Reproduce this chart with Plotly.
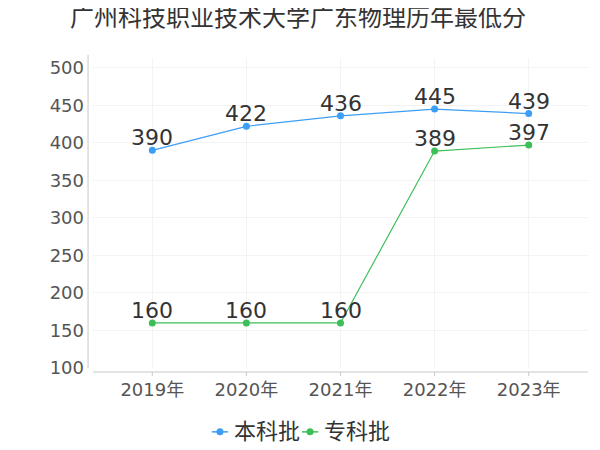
import plotly.graph_objects as go

YEARS = ["2019年", "2020年", "2021年", "2022年", "2023年"]
BENKE = [390, 422, 436, 445, 439]
ZHUANKE = [160, 160, 160, 389, 397]
SERIES_NAMES = ["本科批", "专科批"]
COLORS = ["#3d9ef5", "#3dbf57"]

TITLE = "广州科技职业技术大学广东物理历年最低分"
FONT = "DejaVu Sans, Noto Sans CJK SC, sans-serif"

fig = go.Figure()
for name, values, color in zip(SERIES_NAMES, [BENKE, ZHUANKE], COLORS):
    fig.add_trace(go.Scatter(
        x=YEARS,
        y=values,
        name=name,
        mode="lines+markers",
        line=dict(color=color, width=1.2),
        marker=dict(color=color, size=7),
        showlegend=False,
    ))
    # value labels sitting just above each point
    for year, v in zip(YEARS, values):
        fig.add_annotation(x=year, y=v, text=str(v), showarrow=False,
                           yanchor="bottom", yshift=-2,
                           font=dict(size=22, color="#333333"))

# small legend like the reference: short line + dot, then the name
legend_y = -0.206
legend_starts = [0.240, 0.422]
for name, color, x0 in zip(SERIES_NAMES, COLORS, legend_starts):
    fig.add_shape(type="line", xref="paper", yref="paper", x0=x0, x1=x0 + 0.033,
                  y0=legend_y, y1=legend_y, line=dict(color=color, width=1.5))
    cx = x0 + 0.0165
    fig.add_shape(type="circle", xref="paper", yref="paper",
                  x0=cx - 0.0071, x1=cx + 0.0071, y0=legend_y - 0.0113, y1=legend_y + 0.0113,
                  fillcolor=color, line=dict(color=color, width=0))
    fig.add_annotation(xref="paper", yref="paper", x=x0 + 0.041, y=legend_y, text=name,
                       showarrow=False, xanchor="left", yanchor="middle",
                       font=dict(size=22, color="#333333"))

# page body has an 8px margin, so the figure is 8px smaller than the window
fig.update_layout(
    width=592,
    height=442,
    paper_bgcolor="white",
    plot_bgcolor="white",
    font=dict(family=FONT, color="#555555"),
    title=dict(text=TITLE, x=0.49, xanchor="center", y=0.998, yanchor="top",
               font=dict(size=24, color="#333333")),
    margin=dict(l=85, r=12, t=50, b=82, autoexpand=False),
    showlegend=False,
    xaxis=dict(
        type="category",
        range=[-0.63, 4.63],
        automargin=False,
        showgrid=True,
        gridcolor="#f3f3f3",
        showline=False,
        zeroline=False,
        ticks="",
        tickfont=dict(size=18, color="#555555"),
        ticklabelstandoff=9,
    ),
    yaxis=dict(
        range=[100, 513],
        tickvals=[100, 150, 200, 250, 300, 350, 400, 450, 500],
        automargin=False,
        showgrid=True,
        gridcolor="#f3f3f3",
        showline=False,
        zeroline=False,
        ticks="",
        tickfont=dict(size=18, color="#555555"),
        ticklabelstandoff=8,
    ),
)

# detached axis lines like the reference
fig.add_shape(type="line", xref="paper", yref="paper", x0=0, x1=1, y0=-0.013, y1=-0.013,
              line=dict(color="#c8c8c8", width=1))
fig.add_shape(type="line", xref="paper", yref="paper", x0=-0.01, x1=-0.01, y0=0, y1=1.01,
              line=dict(color="#c8c8c8", width=1))
for i in range(len(YEARS)):
    fig.add_shape(type="line", xref="x", yref="paper", x0=i, x1=i, y0=-0.013, y1=-0.026,
                  line=dict(color="#c8c8c8", width=1))

fig.write_html("out.html")
